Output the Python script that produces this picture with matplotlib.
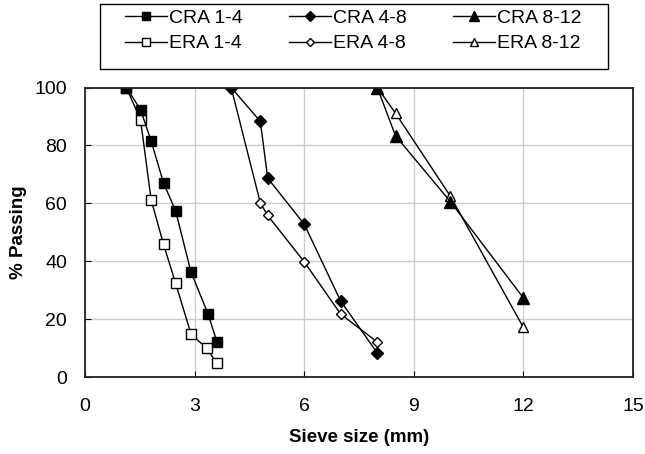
import matplotlib.pyplot as plt
from matplotlib.patches import Rectangle

plt.rcParams['font.family'] = ['Liberation Sans', 'DejaVu Sans']

# sieve size (mm) and % passing
cra14_x = [1.13, 1.52, 1.81, 2.15, 2.48, 2.90, 3.37, 3.61]
cra14_y = [100, 92.4, 81.5, 67.0, 57.4, 36.3, 21.7, 12.2]
era14_x = [1.13, 1.52, 1.81, 2.15, 2.48, 2.90, 3.33, 3.61]
era14_y = [100, 88.9, 61.2, 45.8, 32.4, 14.9, 9.9, 4.7]

cra48_x = [4.0, 4.8, 5.0, 6.0, 7.0, 8.0]
cra48_y = [100, 88.3, 68.7, 52.8, 26.2, 8.3]
era48_x = [4.0, 4.8, 5.0, 6.0, 7.0, 8.0]
era48_y = [100, 60.1, 55.8, 39.8, 21.7, 12.1]

cra812_x = [8.0, 8.5, 10.0, 12.0]
cra812_y = [100, 83.3, 60.6, 27.3]
era812_x = [8.0, 8.5, 10.0, 12.0]
era812_y = [100, 91.1, 62.5, 17.1]

fig = plt.figure(figsize=(6.45, 4.54), dpi=100)
ax = fig.add_axes([85 / 645, 1 - 377 / 454, 548 / 645, 289.5 / 454])

lw = 1.0
# open (ERA) series first so the filled ones sit on top
h2, = ax.plot(era14_x, era14_y, color='black', lw=lw, marker='s', ms=6.5,
              mfc='white', mec='black', mew=1, label='ERA 1-4')
h4, = ax.plot(era48_x, era48_y, color='black', lw=lw, marker='D', ms=5,
              mfc='white', mec='black', mew=1, label='ERA 4-8')
h6, = ax.plot(era812_x, era812_y, color='black', lw=lw, marker='^', ms=7.5,
              mfc='white', mec='black', mew=1, label='ERA 8-12')
h1, = ax.plot(cra14_x, cra14_y, color='black', lw=lw, marker='s', ms=7,
              mfc='black', mec='black', label='CRA 1-4')
h3, = ax.plot(cra48_x, cra48_y, color='black', lw=lw, marker='D', ms=6,
              mfc='black', mec='black', label='CRA 4-8')
h5, = ax.plot(cra812_x, cra812_y, color='black', lw=lw, marker='^', ms=8,
              mfc='black', mec='black', label='CRA 8-12')

ax.set_xlim(0, 15)
ax.set_ylim(0, 100)
ax.set_xticks([0, 3, 6, 9, 12, 15])
ax.set_yticks([0, 20, 40, 60, 80, 100])
ax.grid(True, color='#cccccc', lw=1)
ax.set_axisbelow(True)
ax.tick_params(direction='in', length=4, labelsize=14, colors='black')
ax.tick_params(axis='x', pad=15)
ax.tick_params(axis='y', pad=13)
for s in ax.spines.values():
    s.set_color('#222222')
    s.set_linewidth(1.3)

ax.set_xlabel('Sieve size (mm)', fontsize=13.5, fontweight='bold', labelpad=10)
ax.set_ylabel('% Passing', fontsize=13.5, fontweight='bold', labelpad=5)

# legend box drawn separately
fig.patches.append(Rectangle((100 / 645, 1 - 69 / 454), 508 / 645, 65 / 454,
                             transform=fig.transFigure, fill=False,
                             edgecolor='black', lw=1.0))
leg = fig.legend(handles=[h1, h2, h3, h4, h5, h6], ncol=3, loc='center left',
                 bbox_to_anchor=(125 / 645, 1 - 31 / 454), fontsize=14,
                 frameon=False, handlelength=2.15, handletextpad=0.1,
                 columnspacing=2.4, labelspacing=0.4, borderpad=0,
                 borderaxespad=0, markerscale=0.85)

fig.savefig('out.png', dpi=100)
